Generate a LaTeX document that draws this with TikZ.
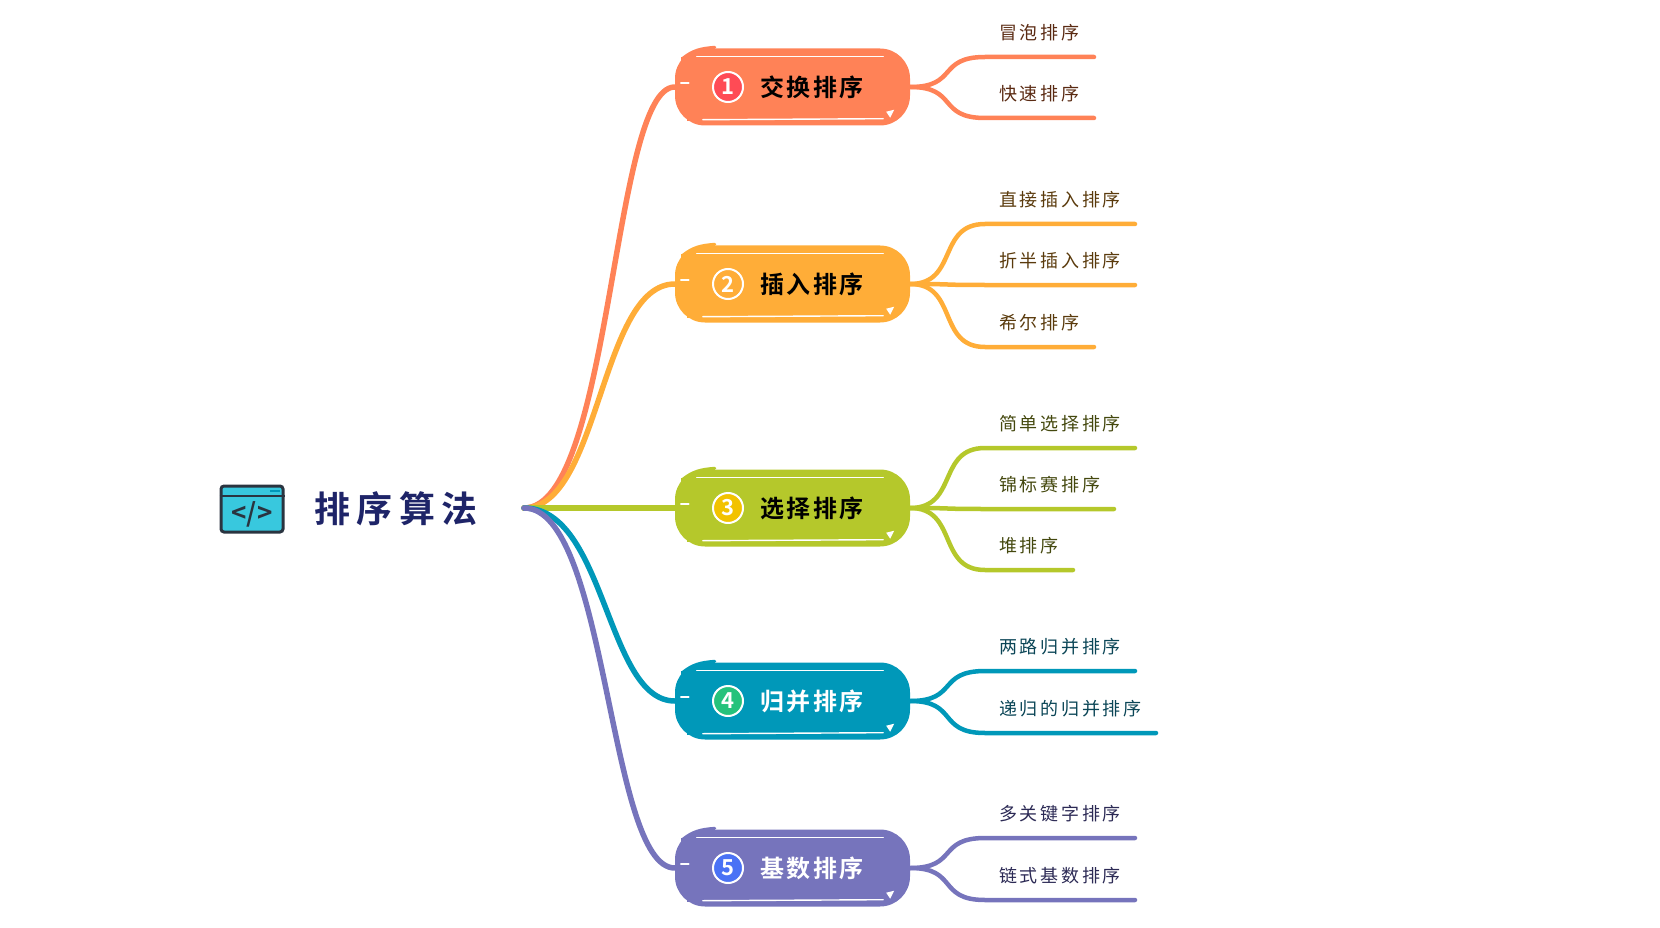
\documentclass[tikz,border=0pt]{standalone}
\usepackage{fontspec}
\usetikzlibrary{calc}
\newfontfamily\cjkleaf[LetterSpace=15]{Noto Sans CJK SC}
\newfontfamily\cjkmain[LetterSpace=9]{Noto Sans CJK SC Bold}
\newfontfamily\cjkroot[LetterSpace=17]{Noto Sans CJK SC Bold}
\newfontfamily\cjknum{Noto Sans CJK SC Bold}
\definecolor{sort1}{HTML}{FF8257}
\definecolor{sort2}{HTML}{FFAD38}
\definecolor{sort3}{HTML}{B5C82B}
\definecolor{sort4}{HTML}{0098B9}
\definecolor{sort5}{HTML}{7674BC}
\definecolor{sorttext1}{HTML}{5A2A12}
\definecolor{sorttext2}{HTML}{5A3A0C}
\definecolor{sorttext3}{HTML}{44480E}
\definecolor{sorttext4}{HTML}{0A4556}
\definecolor{sorttext5}{HTML}{2C2A55}
\definecolor{title1}{HTML}{000000}
\definecolor{title2}{HTML}{000000}
\definecolor{title3}{HTML}{000000}
\definecolor{title4}{HTML}{FFFFFF}
\definecolor{title5}{HTML}{FFFFFF}
\definecolor{dot1}{HTML}{FF4B55}
\definecolor{dot2}{HTML}{FFAD38}
\definecolor{dot3}{HTML}{F2C200}
\definecolor{dot4}{HTML}{26C27C}
\definecolor{dot5}{HTML}{4A72F5}
\definecolor{rootblue}{HTML}{1E2468}
\definecolor{iconcyan}{HTML}{38C8DE}
\definecolor{icondark}{HTML}{2A3440}
\tikzset{
  x=1pt,y=-1pt,
  mainbox/.style={minimum width=235,minimum height=77,inner sep=0,rounded corners=30},
  maintext/.style={font=\fontsize{24}{26}\cjkmain},
  numdot/.style={circle,draw=white,line width=2,minimum size=30,inner sep=0,font=\fontsize{22}{24}\cjknum,text=white},
  leaf/.style={anchor=west,inner sep=0,font=\fontsize{18}{20}\cjkleaf},
  trunk/.style={line width=5.5,line cap=round},
  twig/.style={line width=4.5,line cap=round},
  scratch/.style={white,line width=1.4,line cap=round},
  rootlabel/.style={font=\fontsize{36}{38}\cjkroot,text=rootblue},
  icon/.style={draw=icondark,fill=iconcyan,line width=3,rounded corners=3,minimum width=62,minimum height=46,inner sep=0}
}
\begin{document}
\begin{tikzpicture}
  \useasboundingbox (0,0) rectangle (1660,928);
  % root
  \node[icon] (icon) at (252,509) {};
  \draw[icondark,line width=2] ($(icon.north west)+(0,11)$) -- ($(icon.north east)+(0,11)$);
  \fill[sort4] ($(icon.north east)+(-15,5)$) rectangle +(10,2);
  \node[inner sep=0,text=icondark,font=\fontsize{26}{28}\cjknum] (iconcode) at (252,514) {</>};
  \node[rootlabel] (root) at (396,509) {排序算法};
  \coordinate (start) at (524,508);
  % main branches
  \foreach \i/\yy/\cx/\lab in {1/87/612/交换排序,2/284/600/插入排序,3/508/600/选择排序,4/701/606/归并排序,5/868/608/基数排序}{
    \node[mainbox,fill=sort\i] (main\i) at (792.5,\yy) {};
    \draw[trunk,sort\i] (start) .. controls (\cx,508) and (\cx,\yy) .. (main\i.west);
    \fill[sort\i] ($(main\i.north west)+(6,9)$) rectangle +(28,24);
    \fill[sort\i] ($(main\i.north east)+(-32,9)$) rectangle +(22,24);
    \fill[sort\i] ($(main\i.south west)+(12,-5)$) rectangle +(28,-20);
    \draw[sort\i,line width=3,line cap=round] ($(main\i.north west)+(8,10)$) .. controls +(10,-8) and +(-14,1) .. ($(main\i.north west)+(40,-1)$);
    \draw[scratch] ($(main\i.north west)+(22,8)$) -- ($(main\i.north east)+(-27,8)$);
    \draw[scratch] ($(main\i.south west)+(28,-6)$) -- ($(main\i.south east)+(-27,-7)$);
    \draw[scratch] ($(main\i.west)+(6,-4)$) -- +(8,0);
    \fill[white] ($(main\i.south east)+(-24,-14)$) -- +(8,-2) -- +(4,6) -- cycle;
    \node[numdot,fill=dot\i] (num\i) at (728,\yy) {\i};
    \node[maintext,text=title\i] (title\i) at (812,{\yy+0.5}) {\lab};
  }
  % leaves
  \foreach \m/\k/\yy/\xx/\lab in {1/1/57/1094/冒泡排序,1/2/118/1094/快速排序,
    2/1/224/1135/直接插入排序,2/2/285/1135/折半插入排序,2/3/347/1094/希尔排序,
    3/1/448/1135/简单选择排序,3/2/509/1114/锦标赛排序,3/3/570/1073/堆排序,
    4/1/671/1135/两路归并排序,4/2/733/1156/递归的归并排序,
    5/1/838/1135/多关键字排序,5/2/900/1135/链式基数排序}{
    \node[leaf,text=sorttext\m] (leaf\m\k) at (999,{\yy-24}) {\lab};
    \coordinate (a\m\k) at (985,\yy);
    \coordinate (b\m\k) at (\xx,\yy);
    \draw[twig,sort\m] (main\m.east) .. controls +(48,0) and ($(a\m\k)+(-48,0)$) .. (a\m\k) -- (b\m\k);
  }
\end{tikzpicture}
\end{document}
